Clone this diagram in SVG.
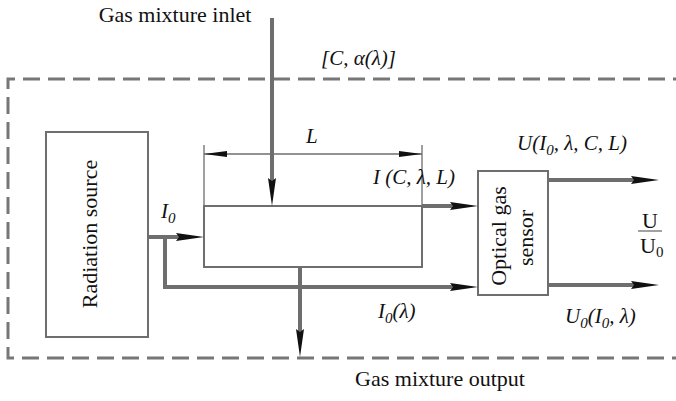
<svg xmlns="http://www.w3.org/2000/svg" width="676" height="401" viewBox="0 0 676 401">
<defs>
<style>
.box{fill:none;stroke:#6e6e6e;stroke-width:2}
.thick{fill:none;stroke:#6e6e6e;stroke-width:4;marker-end:url(#ah)}
.thin{fill:none;stroke:#6e6e6e;stroke-width:1.3}
.dash{fill:none;stroke:#777;stroke-width:3;stroke-dasharray:17 8}
.t{font-family:"Liberation Serif","Times New Roman",serif;font-size:22px;fill:#111}
.i{font-family:"Liberation Serif","Times New Roman",serif;font-size:21px;font-style:italic;fill:#111}
.sub{font-size:15px}
</style>
<marker id="ah" markerUnits="userSpaceOnUse" markerWidth="30" markerHeight="10" refX="6" refY="4.5" orient="auto">
<path d="M0,0.5 L28,4.5 L0,8.5 L3,4.5 Z" fill="#111"/>
</marker>
<marker id="dh" markerUnits="userSpaceOnUse" markerWidth="24" markerHeight="7" refX="23" refY="3" orient="auto-start-reverse">
<path d="M0,0 L23,3 L0,6 Z" fill="#111"/>
</marker>
</defs>
<rect width="676" height="401" fill="#fff"/>
<g id="enclosure">
<path class="dash" d="M690,79 H8 V358 H690"/>
</g>
<g id="radiation-source">
<rect class="box" x="46" y="132" width="102" height="205"/>
<text class="t" transform="rotate(-90 97 234)" x="97" y="234" text-anchor="middle">Radiation source</text>
</g>
<g id="cell">
<rect class="box" x="204" y="206" width="218" height="61"/>
</g>
<g id="sensor">
<rect class="box" x="478" y="171" width="70" height="124"/>
<text class="t" transform="rotate(-90 506 236)" x="506" y="236" text-anchor="middle">Optical gas</text>
<text class="t" transform="rotate(-90 533 238)" x="533" y="238" text-anchor="middle">sensor</text>
</g>
<g id="connectors">
<path class="thick" d="M272,18 V184"/>
<path class="thick" d="M148,237 H182"/>
<path class="thick" d="M422,206 H456"/>
<path class="thick" d="M165,237 V287 H456"/>
<path class="thick" d="M300,267 V335"/>
<path class="thick" d="M548,180 H637"/>
<path class="thick" d="M548,285 H637"/>
<path class="thin" d="M204,145 V206 M422,145 V206"/>
<path class="thin" d="M204,154 H422" style="marker-start:url(#dh);marker-end:url(#dh)"/>
<path class="thin" d="M638,231 H662"/>
</g>
<g id="labels">
<text class="t" x="175" y="22" text-anchor="middle">Gas mixture inlet</text>
<text class="i" x="321" y="65">[C, α(λ)]</text>
<text class="i" x="306" y="143">L</text>
<text class="i" x="373" y="184">I (C, λ, L)</text>
<text class="i" x="161" y="218">I<tspan class="sub" dy="5">0</tspan></text>
<text class="i" x="378" y="318">I<tspan class="sub" dy="5">0</tspan><tspan dy="-5">(λ)</tspan></text>
<text class="i" x="517" y="150">U(I<tspan class="sub" dy="5">0</tspan><tspan dy="-5">, λ, C, L)</tspan></text>
<text class="i" x="565" y="323">U<tspan class="sub" dy="5">0</tspan><tspan dy="-5">(I</tspan><tspan class="sub" dy="5">0</tspan><tspan dy="-5">, λ)</tspan></text>
<text class="t" x="650" y="228" text-anchor="middle">U</text>
<text class="t" x="640" y="253">U<tspan class="sub" dy="4">0</tspan></text>
<text class="t" x="440" y="386" text-anchor="middle">Gas mixture output</text>
</g>
</svg>
